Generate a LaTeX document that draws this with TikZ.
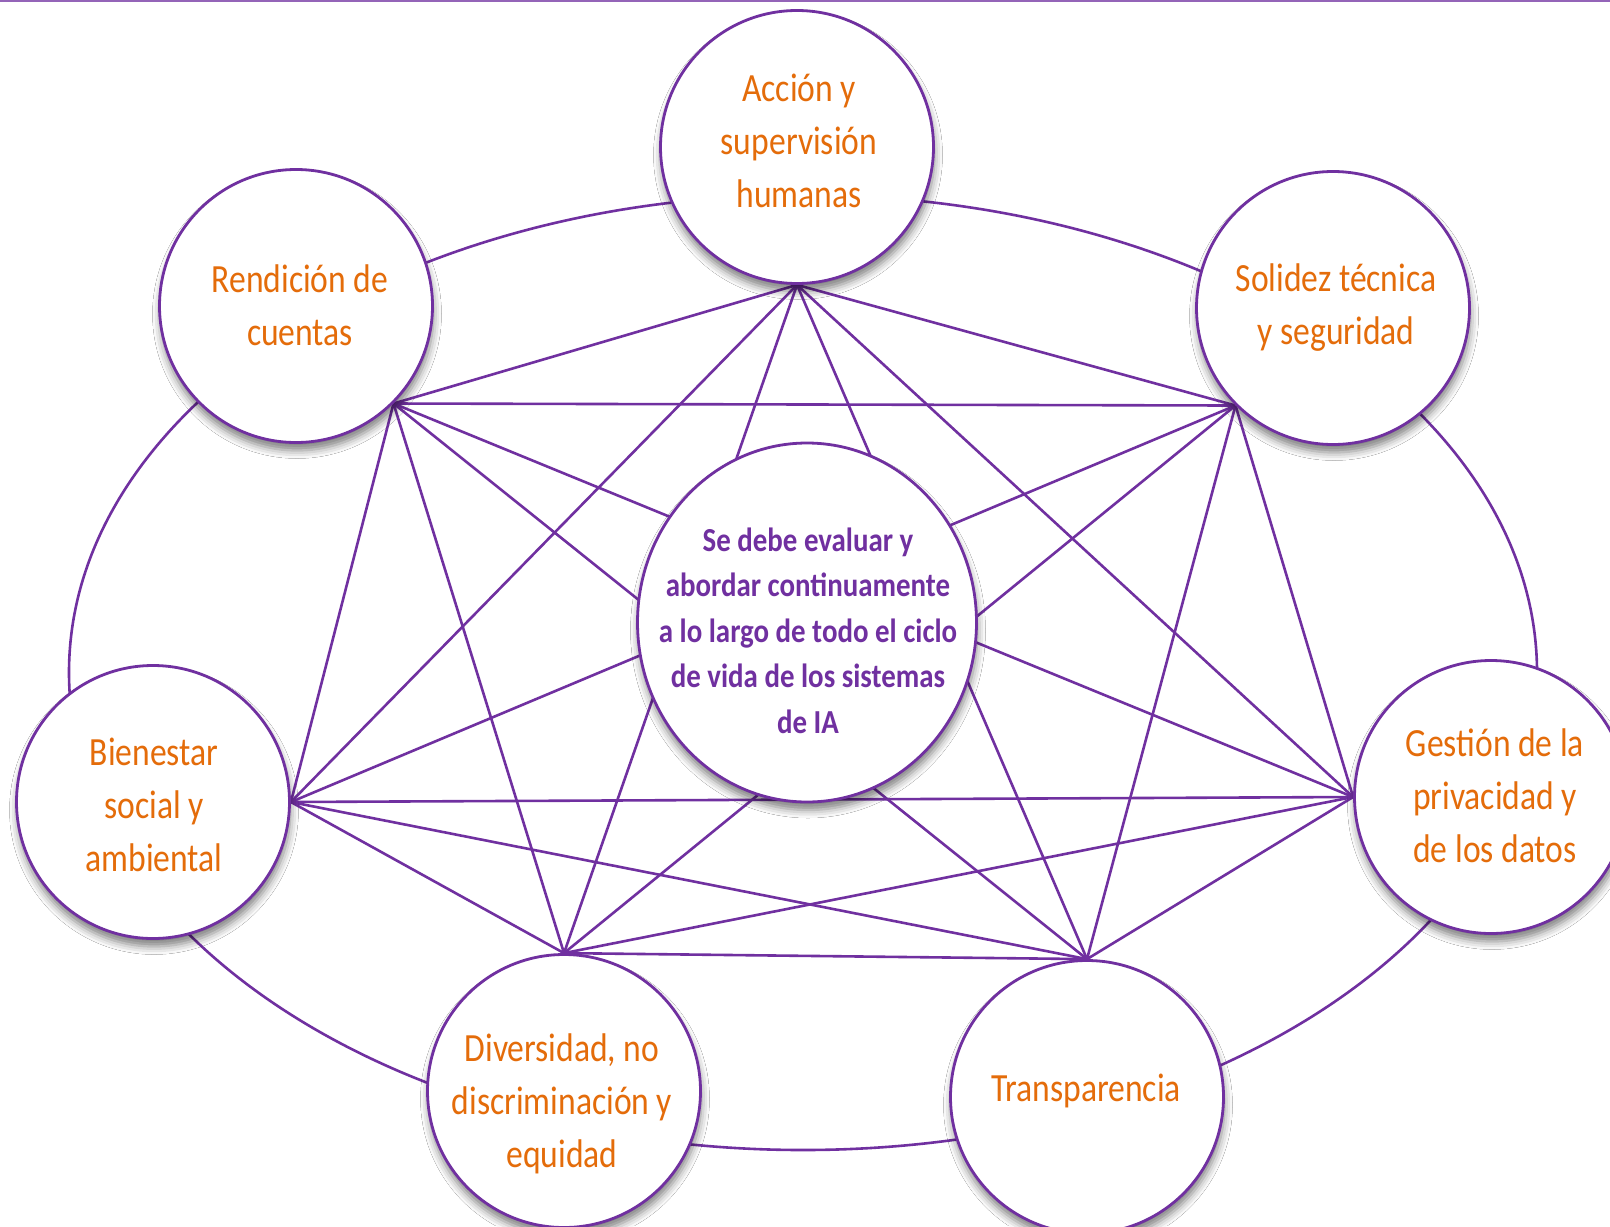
\documentclass[tikz,border=0pt]{standalone}
\usepackage{fontspec}
\setmainfont{Carlito}
\newfontfamily\outerfont[FakeStretch=0.84]{Carlito}
\newfontfamily\centerfont[FakeStretch=0.86]{Carlito}
\usetikzlibrary{shapes.geometric,shadows.blur}
\definecolor{lila}{HTML}{7030A0}
\definecolor{naranja}{HTML}{E46C0A}
\pgfdeclarelayer{background}
\pgfsetlayers{background,main}
\begin{document}
\begin{tikzpicture}[x=0.5pt,y=-0.5pt,
  valor/.style={circle, draw=lila, line width=1.4pt, fill=white, minimum size=136.5pt, inner sep=0pt,
    blur shadow={shadow xshift=0.5pt, shadow yshift=-4pt, shadow blur radius=4pt, shadow opacity=50}},
  centro/.style={ellipse, draw=lila, line width=1.4pt, fill=white, minimum width=169.5pt, minimum height=179.5pt, inner sep=0pt,
    blur shadow={shadow xshift=0.5pt, shadow yshift=-4pt, shadow blur radius=4pt, shadow opacity=50}},
  txt/.style={text=naranja, font=\outerfont\fontsize{20}{26.5}\selectfont, align=center, inner sep=0pt},
  ctxt/.style={text=lila, font=\centerfont\bfseries\fontsize{16.8}{22.75}\selectfont, align=center, inner sep=0pt},
  enlace/.style={draw=lila, line width=1.3pt},
  anillo/.style={ellipse, draw=lila, line width=1.3pt, minimum width=734pt, minimum height=477.5pt, inner sep=0pt}]
\useasboundingbox (0,0) rectangle (1610,1226);
% circles
\node[valor] (accion) at (797,147) {};
\node[valor] (rendicion) at (296,306) {};
\node[valor] (solidez) at (1333,308) {};
\node[valor] (bienestar) at (153,802) {};
\node[valor] (gestion) at (1491,797) {};
\node[valor] (diversidad) at (564,1091) {};
\node[valor] (transparencia) at (1087,1097) {};
\node[centro] (centro) at (807,622.5) {};
% texts
\node[txt] (accion-t) at (799,141) {Acción y\\supervisión\\humanas};
\node[txt] (rendicion-t) at (300,305) {Rendición de\\cuentas};
\node[txt] (solidez-t) at (1336,307.5) {Solidez técnica\\y seguridad};
\node[txt] (bienestar-t) at (154,805) {Bienestar\\social y\\ambiental};
\node[txt] (gestion-t) at (1495,796) {Gestión de la\\privacidad y\\de los datos};
\node[txt] (diversidad-t) at (562,1104) {Diversidad, no\\discriminación y\\equidad};
\node[txt] (transparencia-t) at (1086,1091) {Transparencia};
\node[ctxt] (centro-t) at (808,630.5) {Se debe evaluar y\\abordar continuamente\\a lo largo de todo el ciclo\\de vida de los sistemas\\de IA};
% hubs
\coordinate (hA) at (accion.south);
\coordinate (hR) at (rendicion.-45);
\coordinate (hS) at (solidez.-135);
\coordinate (hB) at (bienestar.east);
\coordinate (hG) at (gestion.west);
\coordinate (hD) at (diversidad.north);
\coordinate (hT) at (transparencia.north);
\begin{pgfonlayer}{background}
\fill[white] (0,0) rectangle (1610,1226);
\draw[draw=lila!75, line width=1.3pt] (0,1.2) -- (1610,1.2);
\node[anillo] (ring) at (803,672.5) {};
\foreach \a/\b in {hA/hR,hA/hS,hA/hB,hA/hG,hA/hD,hA/hT,
                   hR/hS,hR/hB,hR/hG,hR/hD,hR/hT,
                   hS/hB,hS/hG,hS/hD,hS/hT,
                   hB/hG,hB/hD,hB/hT,
                   hG/hD,hG/hT,
                   hD/hT}
  \draw[enlace] (\a) -- (\b);
\end{pgfonlayer}
\end{tikzpicture}
\end{document}
